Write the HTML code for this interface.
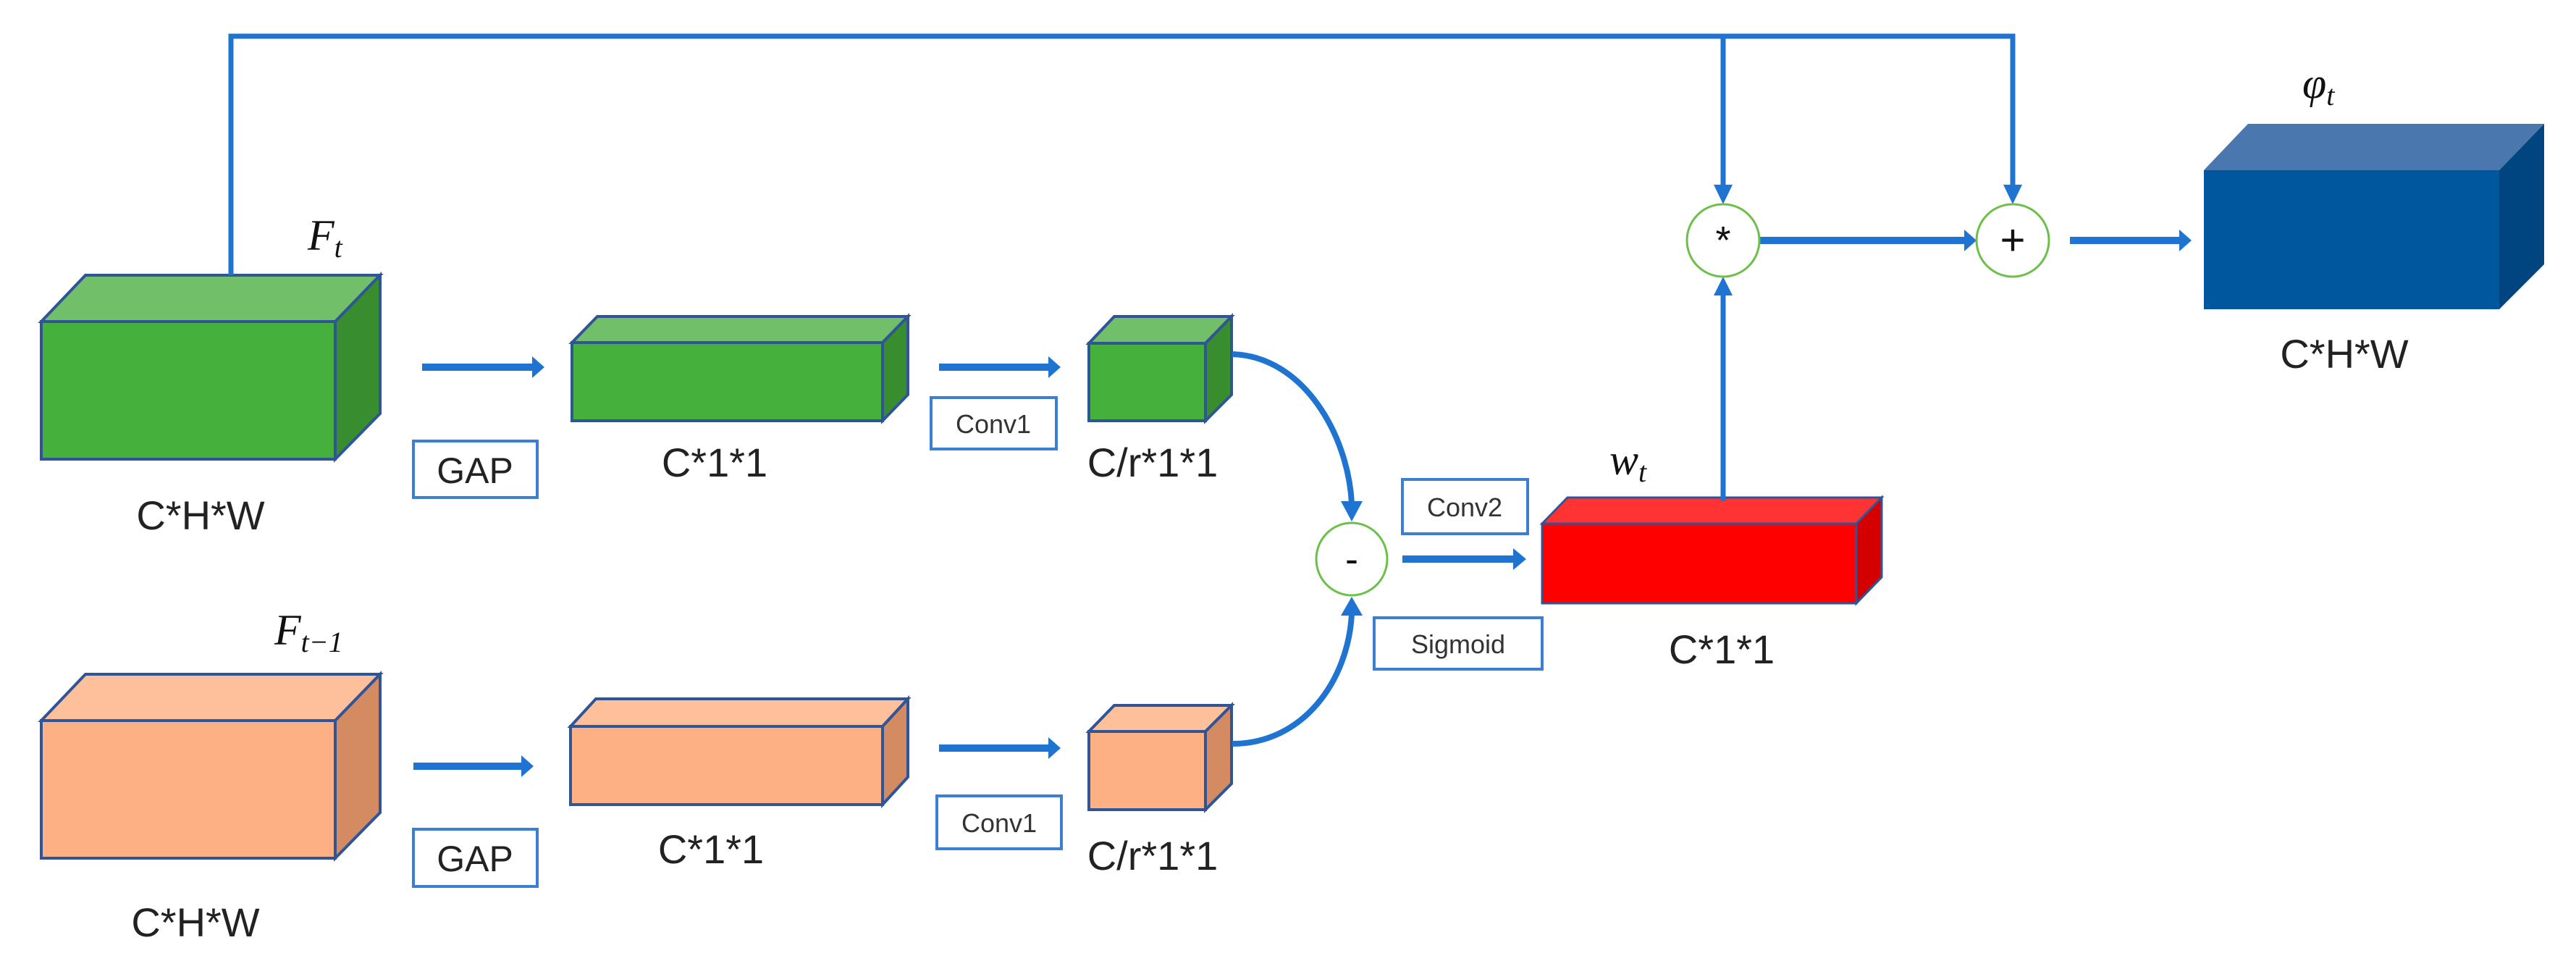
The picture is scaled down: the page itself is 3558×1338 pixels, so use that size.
<!DOCTYPE html>
<html><head><meta charset="utf-8"><style>
html,body{margin:0;padding:0;background:#fff;}
svg{display:block;}
.lbl{font-family:"Liberation Sans",sans-serif;font-size:56px;fill:#222;}
.sm{font-family:"Liberation Sans",sans-serif;font-size:36px;fill:#333;}
.math{font-family:"Liberation Serif",serif;font-style:italic;font-size:60px;fill:#111;}
.sub{font-family:"Liberation Serif",serif;font-style:italic;font-size:40px;fill:#111;}
</style></head><body>
<svg width="3558" height="1338" viewBox="0 0 3558 1338" xmlns="http://www.w3.org/2000/svg">
<defs>
<marker id="ah" markerWidth="6" markerHeight="6" refX="3" refY="3" orient="auto" markerUnits="strokeWidth"><path d="M0,0 L4,3 L0,6 Z" fill="#1f74d1"/></marker>
<marker id="ah2" markerWidth="5" markerHeight="5" refX="4" refY="2.5" orient="auto" markerUnits="strokeWidth"><path d="M0,0 L5,2.5 L0,5 Z" fill="#1f74d1"/></marker>
</defs>
<g stroke="#2f5597" stroke-width="4" stroke-linejoin="miter">
<!-- green big cube -->
<polygon points="57,444 118,380 525,380 463,444" fill="#72bf6a"/>
<polygon points="463,444 525,380 525,571 463,634" fill="#388e2f"/>
<rect x="57" y="444" width="406" height="190" fill="#46b03c"/>
<!-- green box2 -->
<polygon points="790,473 825,437 1254,437 1219,473" fill="#72bf6a"/>
<polygon points="1219,473 1254,437 1254,545 1219,581" fill="#388e2f"/>
<rect x="790" y="473" width="429" height="108" fill="#46b03c"/>
<!-- green box3 -->
<polygon points="1504,474 1539,437 1701,437 1665,474" fill="#72bf6a"/>
<polygon points="1665,474 1701,437 1701,545 1665,581" fill="#388e2f"/>
<rect x="1504" y="474" width="161" height="107" fill="#46b03c"/>
<!-- orange big -->
<polygon points="57,995 118,931 525,931 463,995" fill="#fdc09a"/>
<polygon points="463,995 525,931 525,1122 463,1185" fill="#d48b62"/>
<rect x="57" y="995" width="406" height="190" fill="#fdb084"/>
<!-- orange box2 -->
<polygon points="788,1003 823,965 1254,965 1219,1003" fill="#fdc09a"/>
<polygon points="1219,1003 1254,965 1254,1073 1219,1111" fill="#d48b62"/>
<rect x="788" y="1003" width="431" height="108" fill="#fdb084"/>
<!-- orange box3 -->
<polygon points="1504,1010 1539,974 1701,974 1665,1010" fill="#fdc09a"/>
<polygon points="1665,1010 1701,974 1701,1082 1665,1118" fill="#d48b62"/>
<rect x="1504" y="1010" width="161" height="108" fill="#fdb084"/>
</g>
<!-- red box -->
<g stroke="#2f5597" stroke-width="3">
<polygon points="2130,723 2165,687 2599,687 2564,723" fill="#ff3333"/>
<polygon points="2564,723 2599,687 2599,797 2564,833" fill="#d40000"/>
<rect x="2130" y="723" width="434" height="110" fill="#ff0000"/>
</g>
<!-- blue cube -->
<polygon points="3044,235 3105,171 3514,171 3452,235" fill="#4a78ae"/>
<polygon points="3452,235 3514,171 3514,365 3452,427" fill="#00457f"/>
<rect x="3044" y="235" width="408" height="192" fill="#00579e"/>

<!-- connectors -->
<g fill="none" stroke="#1f74d1">
<polyline points="319,380 319,50 2780,50 2780,270" stroke-width="7"/>
<line x1="2380" y1="50" x2="2380" y2="270" stroke-width="7"/>
<line x1="2380" y1="692" x2="2380" y2="395" stroke-width="7"/>
<line x1="583" y1="507" x2="735" y2="507" stroke-width="10"/>
<line x1="1297" y1="507" x2="1448" y2="507" stroke-width="10"/>
<line x1="571" y1="1058" x2="720" y2="1058" stroke-width="10"/>
<line x1="1297" y1="1033" x2="1448" y2="1033" stroke-width="10"/>
<line x1="1937" y1="772" x2="2090" y2="772" stroke-width="10"/>
<line x1="2430" y1="332" x2="2713" y2="332" stroke-width="10"/>
<line x1="2859" y1="332" x2="3010" y2="332" stroke-width="10"/>
<path d="M1702,489 C1800,492 1862,600 1867,695" stroke-width="8"/>
<path d="M1702,1027 C1800,1027 1862,940 1867,848" stroke-width="8"/>
</g>
<g fill="#1f74d1">
<polygon points="735,492 752,507 735,522"/>
<polygon points="1448,492 1465,507 1448,522"/>
<polygon points="720,1043 737,1058 720,1073"/>
<polygon points="1448,1018 1465,1033 1448,1048"/>
<polygon points="2090,757 2108,772 2090,787"/>
<polygon points="2713,317 2730,332 2713,347"/>
<polygon points="3010,317 3027,332 3010,347"/>
<polygon points="2367,255 2393,255 2380,282"/>
<polygon points="2767,255 2793,255 2780,282"/>
<polygon points="2367,408 2393,408 2380,382"/>
<polygon points="1852,692 1882,692 1867,720"/>
<polygon points="1852,850 1882,850 1867,824"/>
</g>
<!-- circles -->
<g fill="#fff" stroke="#6cc04a" stroke-width="3">
<circle cx="2380" cy="332" r="50"/>
<circle cx="2780" cy="332" r="50"/>
<ellipse cx="1867" cy="772" rx="49" ry="50"/>
</g>
<text x="2380" y="350" text-anchor="middle" font-family="Liberation Sans,sans-serif" font-size="54" fill="#111">*</text>
<text x="2780" y="352" text-anchor="middle" font-family="Liberation Sans,sans-serif" font-size="60" fill="#111">+</text>
<text x="1867" y="790" text-anchor="middle" font-family="Liberation Sans,sans-serif" font-size="54" fill="#111">-</text>

<!-- label boxes -->
<g fill="#fff" stroke="#3b7fd4" stroke-width="4">
<rect x="571" y="609" width="171" height="78"/>
<rect x="571" y="1145" width="171" height="79"/>
<rect x="1286" y="549" width="173" height="71"/>
<rect x="1294" y="1099" width="172" height="73"/>
<rect x="1937" y="662" width="173" height="75"/>
<rect x="1898" y="853" width="232" height="71"/>
</g>
<text class="lbl" x="656" y="667" text-anchor="middle" style="font-size:50px">GAP</text>
<text class="lbl" x="656" y="1203" text-anchor="middle" style="font-size:50px">GAP</text>
<text class="sm" x="1372" y="598" text-anchor="middle">Conv1</text>
<text class="sm" x="1380" y="1149" text-anchor="middle">Conv1</text>
<text class="sm" x="2023" y="713" text-anchor="middle">Conv2</text>
<text class="sm" x="2014" y="902" text-anchor="middle">Sigmoid</text>

<!-- dimension labels -->
<text class="lbl" x="277" y="731" text-anchor="middle">C*H*W</text>
<text class="lbl" x="270" y="1293" text-anchor="middle">C*H*W</text>
<text class="lbl" x="987" y="658" text-anchor="middle">C*1*1</text>
<text class="lbl" x="982" y="1192" text-anchor="middle">C*1*1</text>
<text class="lbl" x="1592" y="658" text-anchor="middle">C/r*1*1</text>
<text class="lbl" x="1592" y="1201" text-anchor="middle">C/r*1*1</text>
<text class="lbl" x="2378" y="916" text-anchor="middle">C*1*1</text>
<text class="lbl" x="3238" y="508" text-anchor="middle">C*H*W</text>

<!-- math labels -->
<text class="math" x="425" y="345">F<tspan class="sub" dy="10">t</tspan></text>
<text class="math" x="379" y="890">F<tspan class="sub" dy="10">t−1</tspan></text>
<text class="math" x="2223" y="655">w<tspan class="sub" dy="10">t</tspan></text>
<text class="math" x="3180" y="135">φ<tspan class="sub" dy="10">t</tspan></text>
</svg>
</body></html>
